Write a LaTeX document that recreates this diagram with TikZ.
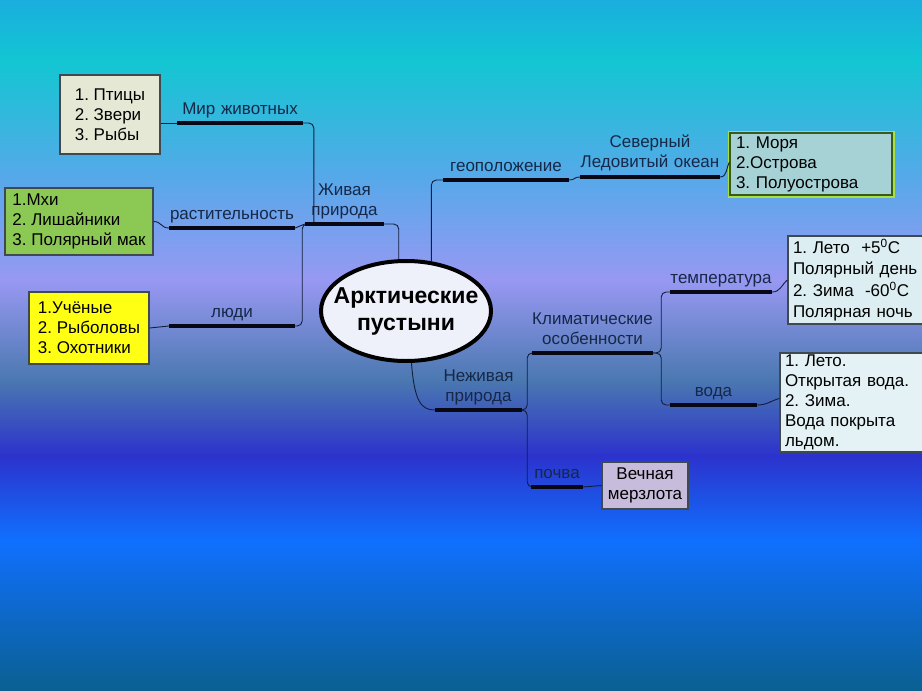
\documentclass[tikz,border=0pt]{standalone}
\usepackage{fontspec}
\setmainfont{Liberation Sans}
\usetikzlibrary{shapes.geometric,positioning}
\frenchspacing

\definecolor{bgA}{HTML}{1AAEDE}
\definecolor{bgB}{HTML}{12C6D2}
\definecolor{bgC}{HTML}{58A8EA}
\definecolor{bgD}{HTML}{9898F2}
\definecolor{bgE}{HTML}{4A78B0}
\definecolor{bgF}{HTML}{2C32CC}
\definecolor{bgG}{HTML}{1070FF}
\definecolor{bgH}{HTML}{0A6090}
\definecolor{labelc}{HTML}{162848}
\definecolor{linkc}{HTML}{141E3C}
\definecolor{barc}{HTML}{080814}
\definecolor{centrefill}{HTML}{EEF0FA}
\definecolor{ptfill}{HTML}{E6E8D6}
\definecolor{mxfill}{HTML}{8CC854}
\definecolor{uchfill}{HTML}{FFFF14}
\definecolor{morfill}{HTML}{A6D2D6}
\definecolor{morline}{HTML}{3A5A1A}
\definecolor{glowc}{HTML}{A8E040}
\definecolor{tfill}{HTML}{DCEEF2}
\definecolor{vfill}{HTML}{E4F2F6}
\definecolor{mzfill}{HTML}{C8BCDC}
\definecolor{boxline}{HTML}{404850}

\newcommand{\lblfont}{\fontsize{17}{20}\selectfont}
\newcommand{\boxfont}{\fontsize{17}{20}\selectfont}
\newcommand{\bigfont}{\fontsize{23}{27}\selectfont\bfseries}

\tikzset{
  branch/.style={anchor=south, inner xsep=0pt, inner ysep=4.5pt, align=center, text=labelc, font=\lblfont},
  bar/.style={draw=barc, line width=4pt},
  link/.style={draw=linkc, line width=0.9pt, rounded corners=5pt},
  infobox/.style={draw=boxline, line width=1.2pt, align=left, font=\boxfont, inner sep=0pt},
  centre/.style={ellipse, draw=black, line width=4pt, fill=centrefill, font=\bigfont, align=center,
    minimum width=170pt, minimum height=100pt, inner xsep=-14pt, inner ysep=0pt}
}

\begin{document}
\begin{tikzpicture}[x=1pt,y=-1pt]

% background
\clip (0,0) rectangle (922,691);
\foreach \ya/\yb/\ca/\cb in {0/60/bgA/bgB, 60/180/bgB/bgC, 180/280/bgC/bgD, 280/380/bgD/bgE,
  380/455/bgE/bgF, 455/540/bgF/bgG, 540/691/bgG/bgH}
  \shade[top color=\ca, bottom color=\cb] (0,\ya) rectangle (922,\yb+1);

% boxes
\node[infobox, fill=ptfill, minimum width=100pt, minimum height=79pt] (ptic) at (110,114.5) {1. Птицы\\2. Звери\\3. Рыбы};
\node[infobox, fill=mxfill, minimum width=148pt, minimum height=67pt] (mhi) at (79,221.5) {1.Мхи\\2. Лишайники\\3. Полярный мак};
\node[infobox, fill=uchfill, minimum width=120pt, minimum height=72pt] (uch) at (89,328) {1.Учёные\\2. Рыболовы\\3. Охотники};
\node[infobox, fill=morfill, draw=morline, preaction={draw=glowc, line width=5pt},
  text width=150pt, inner xsep=6pt, minimum height=62pt] (mor) at (811,164) {1. Моря\\2.Острова\\3. Полуострова};
\node[infobox, fill=tfill, text width=132pt, inner xsep=5pt, minimum height=88pt,
  font=\fontsize{17}{21.5}\selectfont] (tbox) at (859,280)
  {1. Лето\ \ +5\textsuperscript{0}C\\Полярный день\\2. Зима\ \ -60\textsuperscript{0}C\\Полярная ночь};
\node[infobox, fill=vfill, text width=140pt, inner xsep=5pt, minimum height=99pt] (vbox) at (855,402.5)
  {1. Лето.\\Открытая вода.\\2. Зима.\\Вода покрыта\\льдом.};
\node[infobox, fill=mzfill, align=center, minimum width=86pt, minimum height=47pt] (merz) at (645,485.5) {Вечная\\мерзлота};

% centre
\node[centre] (arct) at (406,311) {Арктические\\пустыни};

% branches
\node[branch, text width=79pt] (ziv) at (344.5,224) {Живая\\природа};
\node[branch, text width=126pt] (mir) at (240,123) {Мир животных};
\node[branch, text width=126pt] (rast) at (232,228) {растительность};
\node[branch, text width=126pt] (lyudi) at (232,326) {люди};
\node[branch, text width=126pt, inner ysep=8pt] (geo) at (506,180) {геоположение};
\node[branch, text width=140pt, inner ysep=5.5pt] (sev) at (650,177) {Северный\\Ледовитый океан};
\node[branch, text width=87pt] (nezh) at (478.5,410) {Неживая\\природа};
\node[branch, text width=121pt, inner ysep=8pt] (klim) at (592.5,353) {Климатические\\особенности};
\node[branch, text width=102pt] (temp) at (721,292) {температура};
\node[branch, text width=87pt] (voda) at (713.5,405) {вода};
\node[branch, text width=52pt, inner ysep=8pt] (pochva) at (557,487) {почва};

% connectors
\draw[link] (ptic.east |- mir.south west) -- (mir.south west);
\draw[link] (mhi.east) .. controls +(8,0) and +(-8,0) .. (rast.south west);
\draw[link] (uch.east) -- (lyudi.south west);
\draw[link] (mir.south east) -| ([xshift=9pt]ziv.south west);
\draw[link] (rast.south east) -- (ziv.south west);
\draw[link] (lyudi.south east) -- ++(7,0) |- ([xshift=9pt]ziv.south west);
\draw[link] (ziv.south east) -| (arct.98);
\draw[link] (arct.63) |- (geo.south west);
\draw[link] (geo.south east) .. controls +(6,0) and +(-6,0) .. (sev.south west);
\draw[link] (sev.south east) .. controls +(7,0) and +(-3,5) .. ([yshift=2pt]mor.west);
\draw[link] (arct.-84) .. controls +(3,38) and +(-14,0) .. (nezh.south west);
\draw[link] (nezh.south east) -- ++(5,0) |- (klim.south west);
\draw[link] (nezh.south east) -- ++(5,0) |- (pochva.south west);
\draw[link] (klim.south east) -- ++(8,0) |- (temp.south west);
\draw[link] (klim.south east) -- ++(8,0) |- (voda.south west);
\draw[link] (temp.south east) .. controls +(8,0) and +(-6,5) .. (tbox.west);
\draw[link] (voda.south east) .. controls +(10,0) and +(-8,2) .. ([yshift=4pt]vbox.west);
\draw[link] (pochva.south east) -- (merz.west);

\foreach \n in {ziv,mir,rast,lyudi,geo,sev,nezh,klim,temp,voda,pochva}
  \draw[bar] (\n.south west) -- (\n.south east);

\end{tikzpicture}
\end{document}
